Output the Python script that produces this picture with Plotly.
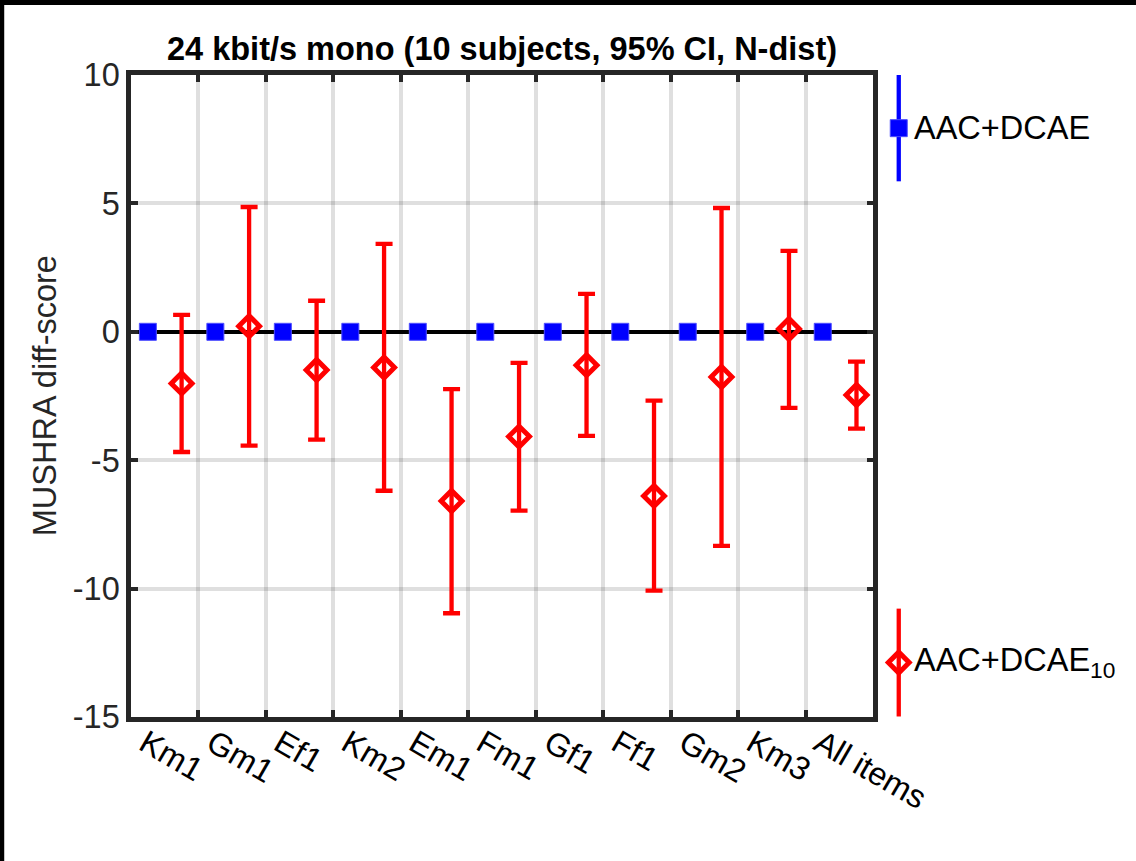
import numpy as np
import plotly.graph_objects as go

# ---- data ----
items = ["Km1", "Gm1", "Ef1", "Km2", "Em1", "Fm1", "Gf1", "Ff1", "Gm2", "Km3", "All items"]
ref_mean = [0, 0, 0, 0, 0, 0, 0, 0, 0, 0, 0]                       # AAC+DCAE
dcae10_mean = [-2.01, 0.22, -1.49, -1.39, -6.59, -4.08, -1.30, -6.39, -1.76, 0.11, -2.46]
dcae10_upper = [0.66, 4.86, 1.21, 3.42, -2.23, -1.21, 1.48, -2.68, 4.82, 3.15, -1.16]
dcae10_lower = [-4.68, -4.43, -4.20, -6.19, -10.96, -6.96, -4.05, -10.08, -8.34, -2.96, -3.77]
y_ticks = [-15, -10, -5, 0, 5, 10]

# ---- layout constants ----
W, H = 1136, 861
L, T, B = 130.8, 74.7, 143.8
PLOT_W = 742.5
AREA_W = W - L
AREA_H = H - T - B
dom_main = PLOT_W / AREA_W
OFF = 0.25
AX = "#262626"
GRID = "rgba(38,38,38,0.15)"
RED = "#ff0000"
BLUE = "#0000ff"
FONT = "Liberation Sans, Arial, sans-serif"
FS = 32.5

idx = np.arange(1, len(items) + 1)
mean = np.array(dcae10_mean)
up = np.array(dcae10_upper) - mean
dn = mean - np.array(dcae10_lower)

sq_marker = dict(symbol="square", size=17, color=BLUE, line=dict(color="#4d4dff", width=1))
dm_marker = dict(symbol="diamond-open", size=16, color=RED, line=dict(color=RED, width=5))

fig = go.Figure()

fig.add_trace(go.Scatter(
    x=idx - OFF, y=ref_mean, mode="markers", name="AAC+DCAE",
    marker=sq_marker, showlegend=False, xaxis="x", yaxis="y"))

fig.add_trace(go.Scatter(
    x=idx + OFF, y=dcae10_mean, mode="markers", name="AAC+DCAE10",
    marker=dm_marker,
    error_y=dict(type="data", symmetric=False, array=up, arrayminus=dn,
                 color=RED, thickness=4.3, width=8.5),
    showlegend=False, xaxis="x", yaxis="y"))

# ---- custom legend (on a hidden side axis) ----
LEG_X = 898.7
fig.add_trace(go.Scatter(
    x=[LEG_X], y=[7.93], mode="markers", showlegend=False, cliponaxis=False,
    marker=sq_marker,
    error_y=dict(type="constant", value=2.07, color=BLUE, thickness=4.3, width=0),
    xaxis="x2", yaxis="y2", hoverinfo="skip"))
fig.add_trace(go.Scatter(
    x=[LEG_X], y=[-12.88], mode="markers", showlegend=False, cliponaxis=False,
    marker=dm_marker,
    error_y=dict(type="constant", value=2.1, color=RED, thickness=4.3, width=0),
    xaxis="x2", yaxis="y2", hoverinfo="skip"))

bounds = list(np.arange(0.5, len(items), 1.0))

fig.update_layout(
    width=W, height=H,
    margin=dict(l=L, r=0, t=T, b=B, pad=0, autoexpand=False),
    paper_bgcolor="white", plot_bgcolor="white",
    font=dict(family=FONT, color=AX),
    xaxis=dict(domain=[0, dom_main], range=[0.5, len(items) + 0.5], automargin=False,
               tickmode="array", tickvals=bounds, ticktext=items,
               tickangle=30, tickfont=dict(size=FS, color="#000000"),
               ticklabelshift=14, ticklabelstandoff=-10,
               ticks="inside", ticklen=7, tickwidth=4, tickcolor=AX,
               showline=True, linecolor=AX, linewidth=4.5, mirror="allticks",
               showgrid=True, gridcolor=GRID, gridwidth=3.5, zeroline=False),
    yaxis=dict(domain=[0, 1], range=[-15, 10], automargin=False,
               tickmode="array", tickvals=y_ticks, ticktext=[str(v) for v in y_ticks],
               tickfont=dict(size=FS, color=AX),
               ticks="inside", ticklen=7, tickwidth=4, tickcolor=AX,
               showline=True, linecolor=AX, linewidth=4.5, mirror="allticks",
               showgrid=True, gridcolor=GRID, gridwidth=3.5,
               zeroline=True, zerolinecolor="#000000", zerolinewidth=4),
    xaxis2=dict(domain=[(880 - L) / AREA_W, 1], range=[880, W], visible=False, automargin=False),
    yaxis2=dict(domain=[0, 1], range=[-15, 10], visible=False, anchor="x2", automargin=False),
    annotations=[
        dict(text="<b>24 kbit/s mono (10 subjects, 95% CI, N-dist)</b>",
             xref="x domain", yref="y domain", x=0.5, y=1 + (T - 49) / AREA_H,
             xanchor="center", yanchor="middle", showarrow=False,
             font=dict(size=FS, color="#000000", family=FONT)),
        dict(text="MUSHRA diff-score", textangle=-90,
             xref="x domain", yref="y domain", x=(45 - L) / PLOT_W, y=0.5,
             xanchor="center", yanchor="middle", showarrow=False,
             font=dict(size=FS, color=AX, family=FONT)),
        dict(text="AAC+DCAE", xref="x2", yref="y2", x=912, y=7.93,
             xanchor="left", yanchor="middle", showarrow=False,
             font=dict(size=FS, color="#000000", family=FONT)),
        dict(text="AAC+DCAE<sub>10</sub>", xref="x2", yref="y2", x=912, y=-12.88,
             xanchor="left", yanchor="middle", showarrow=False,
             font=dict(size=FS, color="#000000", family=FONT)),
    ],
    shapes=[
        dict(type="rect", xref="paper", yref="paper",
             x0=-L / AREA_W - 0.05, x1=(4 - L) / AREA_W,
             y0=-(B + 20) / AREA_H, y1=(AREA_H + T + 20) / AREA_H,
             fillcolor="#000000", line=dict(width=0), layer="above"),
        dict(type="rect", xref="paper", yref="paper",
             x0=-L / AREA_W - 0.05, x1=1.2,
             y0=(AREA_H + T - 4.7) / AREA_H, y1=(AREA_H + T + 20) / AREA_H,
             fillcolor="#000000", line=dict(width=0), layer="above"),
    ],
)

fig.write_html("out.html")
